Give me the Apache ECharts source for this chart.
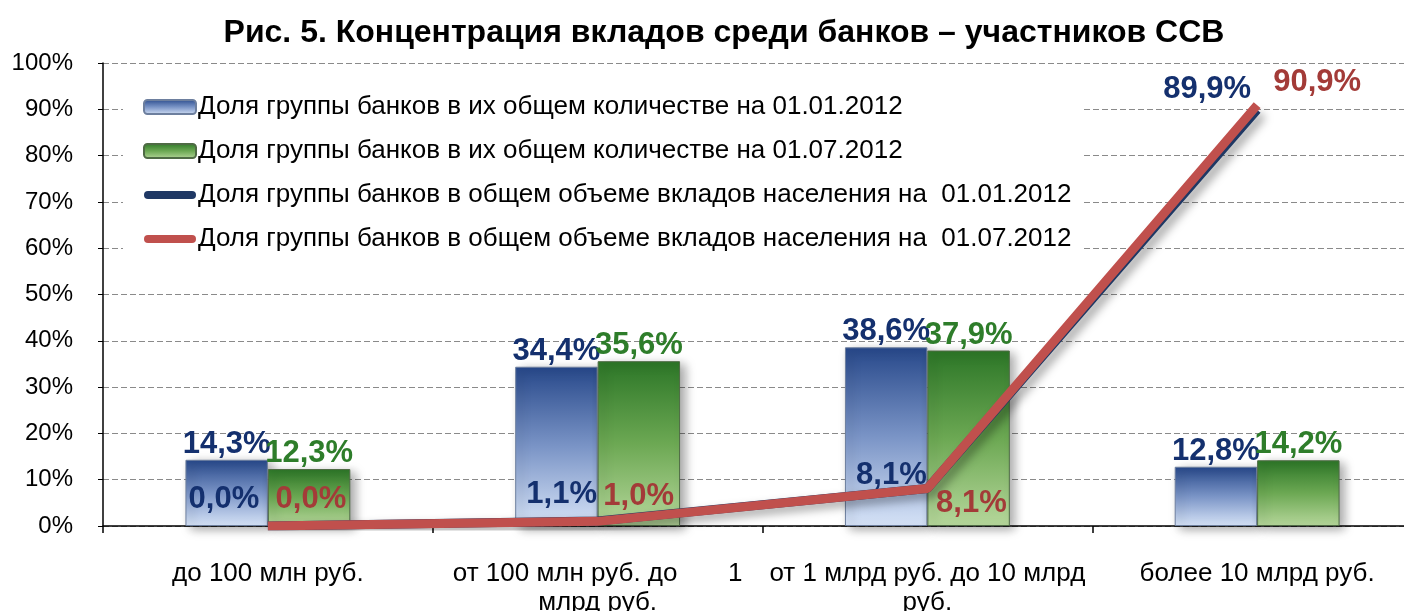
<!DOCTYPE html>
<html>
<head>
<meta charset="utf-8">
<script src="https://cdn.jsdelivr.net/npm/echarts@6/dist/echarts.min.js"></script>
<style>
    html, body { margin: 0; padding: 0; background: #fff; }
    #chart { width: 1404px; height: 611px; }
</style>
</head>
<body>
<div id="chart"></div>
<script>
// категории (размер вкладов)
const categories = [
    'до 100 млн руб.',
    'от 100 млн руб. до       1\nмлрд руб.',
    'от 1 млрд руб. до 10 млрд\nруб.',
    'более 10 млрд руб.'
]
const seriesNames = [
    'Доля группы банков в их общем количестве на 01.01.2012',
    'Доля группы банков в их общем количестве на 01.07.2012',
    'Доля группы банков в общем объеме вкладов населения на  01.01.2012',
    'Доля группы банков в общем объеме вкладов населения на  01.07.2012'
]
const countJan = [14.3, 34.4, 38.6, 12.8]
const countJul = [12.3, 35.6, 37.9, 14.2]
const volumeJan = [0.0, 1.1, 8.1, 89.9]
const volumeJul = [0.0, 1.0, 8.1, 90.9]
const yTicks = { min: 0, max: 100, step: 10 }

// сдвиги подписей линий
const janLabelShift = [[-44, -6], [-36, -6], [-36, 7], [-50, 0]]
const julLabelShift = [[43, -6], [41, -4], [44, 35], [60, -2]]

const fmt = v => v.toFixed(1).replace('.', ',') + '%'

const blueBar = new echarts.graphic.LinearGradient(0, 0, 0, 1, [
    { offset: 0, color: '#27488a' },
    { offset: 0.5, color: '#7a94c6' },
    { offset: 1, color: '#d6e3f7' }
])
const greenBar = new echarts.graphic.LinearGradient(0, 0, 0, 1, [
    { offset: 0, color: '#2c7627' },
    { offset: 0.5, color: '#6ca853' },
    { offset: 1, color: '#b6d79b' }
])
const lineIcon = 'path://M4,0 L48,0 A4,4 0 0 1 48,8 L4,8 A4,4 0 0 1 4,0 Z'

const chart = echarts.init(document.getElementById('chart'))
const font = 'Liberation Sans, Arial, sans-serif'

const lineData = (vals, shift) => vals.map((v, i) => ({
    value: v,
    label: { offset: shift[i] }
}))

const option = {
    animation: false,
    textStyle: { fontFamily: font },
    title: {
        text: 'Рис. 5. Концентрация вкладов среди банков – участников ССВ',
        left: 719,
        top: 12,
        textAlign: 'center',
        textStyle: { fontSize: 32, fontWeight: 'bold', color: '#000', fontFamily: font }
    },
    legend: {
        orient: 'vertical',
        left: 123,
        top: 88,
        itemWidth: 52,
        itemHeight: 14,
        itemGap: 18,
        padding: [6, 10, 6, 20],
        backgroundColor: '#fff',
        textStyle: { fontSize: 26, color: '#000', fontFamily: font, padding: [0, 0, 0, -3] },
        data: [
            { name: seriesNames[0] },
            { name: seriesNames[1] },
            { name: seriesNames[2], icon: lineIcon, itemStyle: { color: '#1f3864' } },
            { name: seriesNames[3], icon: lineIcon, itemStyle: { color: '#c0504d' } }
        ]
    },
    grid: {
        left: 103,
        right: -18,
        top: 63,
        bottom: 85,
        containLabel: false,
        outerBoundsMode: 'none'
    },
    xAxis: {
        type: 'category',
        data: categories,
        axisLine: { lineStyle: { color: '#000', width: 1.5 } },
        axisTick: { show: true, length: 7, lineStyle: { color: '#000', width: 1.5 } },
        axisLabel: { interval: 0, margin: 33, fontSize: 26, lineHeight: 29, color: '#000' }
    },
    yAxis: {
        type: 'value',
        min: yTicks.min,
        max: yTicks.max,
        interval: yTicks.step,
        axisLine: { show: true, lineStyle: { color: '#000', width: 1.5 } },
        axisTick: { show: true, length: 5, lineStyle: { color: '#000' } },
        axisLabel: { formatter: '{value}%', fontSize: 24, color: '#000', margin: 30 },
        splitLine: { lineStyle: { color: '#8a8a8a', type: [6, 3], width: 1 } }
    },
    series: [
        {
            name: seriesNames[0],
            type: 'bar',
            data: countJan,
            barWidth: '25%',
            barGap: '0%',
            itemStyle: {
                color: blueBar,
                borderColor: '#6d7f9e',
                borderWidth: 1,
                shadowBlur: 10,
                shadowColor: 'rgba(0,0,0,0.35)',
                shadowOffsetX: 5,
                shadowOffsetY: 3
            },
            label: {
                show: true, position: 'top', distance: 0,
                formatter: p => fmt(p.value),
                fontSize: 31, fontWeight: 'bold', color: '#14306e', fontFamily: font
            }
        },
        {
            name: seriesNames[1],
            type: 'bar',
            data: countJul,
            barWidth: '25%',
            barGap: '0%',
            itemStyle: {
                color: greenBar,
                borderColor: '#4f6b45',
                borderWidth: 1,
                shadowBlur: 10,
                shadowColor: 'rgba(0,0,0,0.35)',
                shadowOffsetX: 5,
                shadowOffsetY: 3
            },
            label: {
                show: true, position: 'top', distance: 0,
                formatter: p => fmt(p.value),
                fontSize: 31, fontWeight: 'bold', color: '#2e7d2a', fontFamily: font
            }
        },
        {
            name: seriesNames[2],
            type: 'line',
            data: lineData(volumeJan, janLabelShift),
            symbol: 'circle',
            symbolSize: 0,
            color: '#1f3864',
            lineStyle: {
                width: 9,
                color: '#1f3864',
                shadowBlur: 10,
                shadowColor: 'rgba(0,0,0,0.35)',
                shadowOffsetX: 5,
                shadowOffsetY: 5
            },
            z: 3,
            label: {
                show: true, position: 'top', distance: 5,
                formatter: p => fmt(p.value),
                fontSize: 31, fontWeight: 'bold', color: '#14306e', fontFamily: font
            }
        },
        {
            name: seriesNames[3],
            type: 'line',
            data: lineData(volumeJul, julLabelShift),
            symbol: 'circle',
            symbolSize: 0,
            color: '#c0504d',
            lineStyle: { width: 9, color: '#c0504d' },
            z: 4,
            label: {
                show: true, position: 'top', distance: 5,
                formatter: p => fmt(p.value),
                fontSize: 31, fontWeight: 'bold', color: '#a33b38', fontFamily: font
            }
        }
    ]
}
chart.setOption(option)
</script>
</body>
</html>
